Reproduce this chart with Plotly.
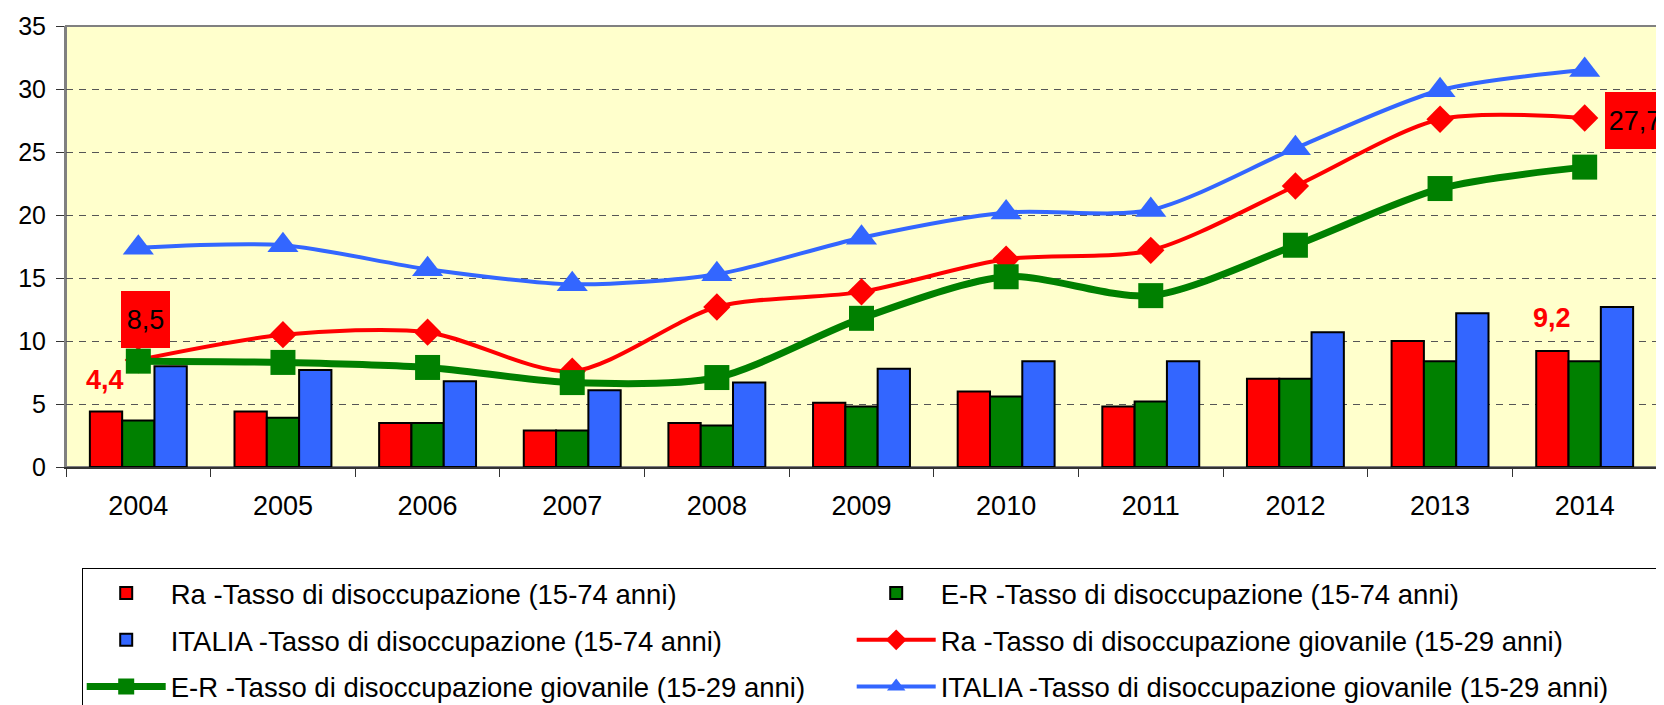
import plotly.graph_objects as go

years = ["2004", "2005", "2006", "2007", "2008", "2009", "2010", "2011", "2012", "2013", "2014"]

ra_tasso = [4.4, 4.4, 3.5, 2.9, 3.5, 5.1, 6.0, 4.8, 7.0, 10.0, 9.2]
er_tasso = [3.7, 3.9, 3.5, 2.9, 3.3, 4.8, 5.6, 5.2, 7.0, 8.4, 8.4]
it_tasso = [8.0, 7.7, 6.8, 6.1, 6.7, 7.8, 8.4, 8.4, 10.7, 12.2, 12.7]

ra_giov = [8.5, 10.5, 10.7, 7.6, 12.7, 13.9, 16.5, 17.2, 22.3, 27.6, 27.7]
er_giov = [8.4, 8.3, 7.9, 6.7, 7.1, 11.8, 15.1, 13.6, 17.6, 22.1, 23.8]
it_giov = [17.4, 17.6, 15.7, 14.5, 15.3, 18.2, 20.2, 20.4, 25.3, 29.9, 31.5]

names = [
    "Ra -Tasso di disoccupazione (15-74 anni)",
    "E-R -Tasso di disoccupazione (15-74 anni)",
    "ITALIA -Tasso di disoccupazione (15-74 anni)",
    "Ra -Tasso di disoccupazione giovanile (15-29 anni)",
    "E-R -Tasso di disoccupazione giovanile (15-29 anni)",
    "ITALIA -Tasso di disoccupazione giovanile (15-29 anni)",
]

RED = "#FF0000"
GREEN = "#008000"
BLUE = "#3366FF"
FONT = "Liberation Sans, Arial, sans-serif"

COL1_W = 676
COL2_W = 711

fig = go.Figure()
for i, (vals, col) in enumerate([(ra_tasso, RED), (er_tasso, GREEN), (it_tasso, BLUE)]):
    fig.add_trace(go.Bar(x=years, y=vals, name=names[i], legendgroup="g%d" % i,
                         legendwidth=COL1_W if i % 2 == 0 else COL2_W,
                         marker=dict(color=col, line=dict(color="black", width=2))))

line_specs = [
    (ra_giov, RED, 4, "diamond", 21),
    (er_giov, GREEN, 7, "square", 25),
    (it_giov, BLUE, 4, "triangle-up", 27),
]
for j, (vals, col, lw, sym, sz) in enumerate(line_specs):
    k = 3 + j
    fig.add_trace(go.Scatter(x=years, y=vals, name=names[k], legendgroup="g%d" % k,
                             legendwidth=COL1_W if k % 2 == 0 else COL2_W,
                             mode="lines+markers",
                             line=dict(color=col, width=lw, shape="spline", smoothing=0.8),
                             marker=dict(symbol=sym, size=sz, color=col)))

first, last = 0, len(years) - 1
annots = [
    dict(x=first, y=ra_tasso[first], text="4,4", xshift=-33, yshift=32,
         font=dict(color=RED, size=27, family=FONT, weight="bold"), showarrow=False),
    dict(x=last, y=ra_tasso[last], text="9,2", xshift=-33, yshift=33,
         font=dict(color=RED, size=27, family=FONT, weight="bold"), showarrow=False),
    dict(x=first, y=ra_giov[first], text="8,5", xshift=7, yshift=40,
         font=dict(color="black", size=27, family=FONT), showarrow=False,
         bgcolor=RED, width=49, height=57, borderpad=0, borderwidth=0),
    dict(x=last, y=ra_giov[last], text="27,7", xshift=20, yshift=-3, xanchor="left",
         font=dict(color="black", size=27, family=FONT), showarrow=False,
         bgcolor=RED, width=60, height=57, borderpad=0, borderwidth=0),
]

fig.update_layout(
    width=1656, height=697,
    margin=dict(l=58, r=7, t=18, b=238, autoexpand=False),
    paper_bgcolor="white", plot_bgcolor="#FFFFCC",
    font=dict(family=FONT, size=26, color="black"),
    barmode="group", bargap=0.33, bargroupgap=0,
    annotations=annots,
    legend=dict(orientation="h", x=0.00987, xanchor="left", y=-0.2283, yanchor="top",
                bordercolor="black", borderwidth=1, bgcolor="white",
                font=dict(size=27.5, family=FONT), entrywidthmode="pixels",
                itemwidth=79, traceorder="grouped", tracegroupgap=8),
    shapes=[dict(type="rect", xref="paper", yref="paper", x0=0, x1=1, y0=0, y1=1,
                 line=dict(color="#808080", width=2), layer="below")],
)
fig.update_xaxes(type="category", range=[-0.5, len(years) - 0.5],
                 showline=True, linecolor="#333333", linewidth=2,
                 ticks="outside", tickson="boundaries", ticklen=8, tickcolor="#333333",
                 ticklabelstandoff=14, showgrid=False, tickfont=dict(size=27), tickangle=0)
fig.update_yaxes(range=[0, 35], dtick=5, showline=True, linecolor="#808080", linewidth=2,
                 ticks="outside", ticklen=8, tickcolor="#333333", ticklabelstandoff=5,
                 showgrid=True, gridcolor="#555555", gridwidth=1, griddash="7px,6px",
                 zeroline=False, tickfont=dict(size=25))

fig.write_html("out.html")
